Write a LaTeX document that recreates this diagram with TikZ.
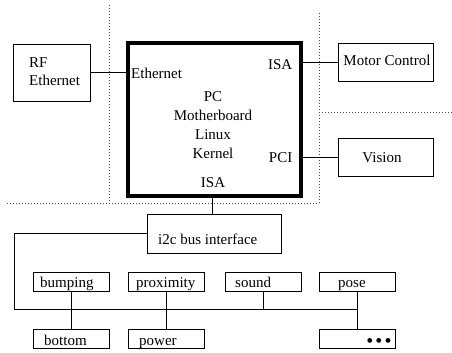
\documentclass[tikz,border=0pt]{standalone}
\usepackage{fontspec}
\setmainfont{Liberation Serif}
\begin{document}
\begin{tikzpicture}[x=1pt,y=-1pt,
  box/.style={draw,line width=0.8pt,inner sep=0pt},
  lbl/.style={font=\fontsize{15}{17}\selectfont,inner sep=0pt,anchor=base west},
  clbl/.style={font=\fontsize{15}{17}\selectfont,inner sep=0pt,anchor=base},
  wire/.style={line width=0.8pt},
  dotl/.style={line width=0.8pt,dash pattern=on 0.8pt off 2.2pt,black!70}]
\useasboundingbox (0,0) rectangle (452,353);
% dotted partitions
\coordinate (d1a) at (109,5); \coordinate (d1b) at (109,203);
\coordinate (d2a) at (7,203); \coordinate (d2b) at (319,203);
\coordinate (d3a) at (319,13);
\coordinate (d4a) at (319,112); \coordinate (d4b) at (452,112);
\draw[dotl] (d1a) -- (d1b);
\draw[dotl] (d2a) -- (d2b);
\draw[dotl] (d3a) -- (d2b);
\draw[dotl] (d4a) -- (d4b);
% boxes
\node[box,minimum width=77pt,minimum height=57pt] (rf) at (51.5,72.5) {};
\node[lbl] (rft1) at (29,67) {RF};
\node[lbl] (rft2) at (29,85) {Ethernet};
\node[draw,line width=3.4pt,minimum width=173pt,minimum height=153pt,inner sep=0pt] (main) at (214.5,119.5) {};
\node[lbl] (eth) at (131,78) {Ethernet};
\node[clbl] (pc) at (213,101) {PC};
\node[clbl] (mb) at (213,120) {Motherboard};
\node[clbl] (lx) at (213,139.5) {Linux};
\node[clbl] (kn) at (213,158.5) {Kernel};
\node[clbl] (isab) at (213,187.5) {ISA};
\node[lbl,anchor=base east] (isar) at (292.5,70) {ISA};
\node[lbl,anchor=base east] (pci) at (292.5,162) {PCI};
\node[box,minimum width=95pt,minimum height=38pt] (motor) at (385.5,62) {};
\node[clbl] (motort) at (387,66) {Motor Control};
\node[box,minimum width=95pt,minimum height=38pt] (vision) at (385.5,157) {};
\node[clbl] (visiont) at (382,162) {Vision};
\node[box,minimum width=134pt,minimum height=39pt] (i2c) at (214,233.5) {};
\node[lbl] (i2ct) at (158,244.5) {i2c bus interface};
% small boxes
\foreach \n/\x/\y in {bump/71/281.5,prox/166/281.5,sound/263.5/281.5,pose/357/281.5,bot/71/338.5,pow/166/338.5,more/357/338.5}
  \node[box,minimum width=76pt,minimum height=19pt] (\n) at (\x,\y) {};
\node[lbl] (bumpt) at (40,287.5) {bumping};
\node[lbl] (proxt) at (136,287.5) {proximity};
\node[lbl] (soundt) at (235,287.5) {sound};
\node[lbl] (poset) at (338,287.5) {pose};
\node[lbl] (bott) at (44,345) {bottom};
\node[lbl] (powt) at (139,345) {power};
\node[font=\fontsize{20}{22}\selectfont,inner sep=0pt,anchor=center] (moret) at (379,343) {•\hspace{2.2pt}•\hspace{2.2pt}•};
% connections
\draw[wire] (rf.east) -- (rf.east -| main.west);
\draw[wire] (motor.west -| main.east) -- (motor.west);
\draw[wire] (vision.west -| main.east) -- (vision.west);
\coordinate (mbot) at (212,196);
\draw[wire] (mbot) -- (mbot |- i2c.north);
\coordinate (busL) at (14,309);
\coordinate (busR) at (357,309);
\draw[wire] (i2c.west) -| (busL) -- (busR);
\draw[wire] (bump.south) -- (bot.north);
\draw[wire] (prox.south) -- (pow.north);
\draw[wire] (sound.south) -- (sound.south |- busR);
\draw[wire] (pose.south) -- (more.north);
\end{tikzpicture}
\end{document}
